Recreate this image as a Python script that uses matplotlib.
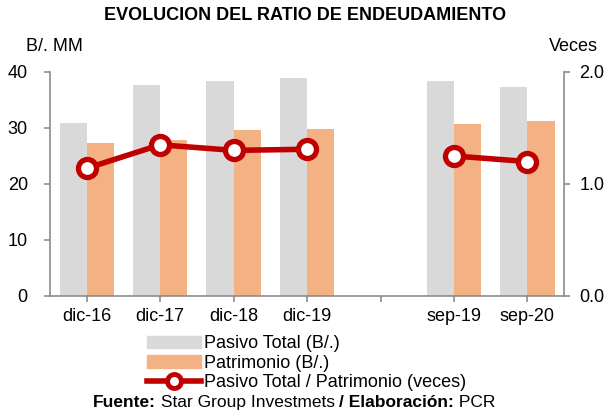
import numpy as np
import matplotlib.pyplot as plt
from matplotlib.lines import Line2D
from matplotlib.patches import Patch

plt.rcParams['font.family'] = ['Liberation Sans', 'DejaVu Sans']

categories = ["dic-16", "dic-17", "dic-18", "dic-19", "", "sep-19", "sep-20"]
pasivo = [30.8, 37.7, 38.3, 39.0, np.nan, 38.3, 37.3]
patrimonio = [27.3, 27.9, 29.6, 29.8, np.nan, 30.7, 31.3]
ratio = [1.14, 1.35, 1.30, 1.31, np.nan, 1.25, 1.20]

gray = "#D9D9D9"
orange = "#F4B183"
red = "#C00000"
axis_col = "#8C8C8C"

fig = plt.figure(figsize=(6.06, 4.16), dpi=100)
ax = fig.add_axes([0.0825, 0.2885, 0.8485, 0.5385])
x = np.arange(len(categories))
w = 0.37

ax.bar(x - w / 2, pasivo, w, color=gray, zorder=2)
ax.bar(x + w / 2, patrimonio, w, color=orange, zorder=2)
ax.set_xlim(-0.5, len(categories) - 0.5)
ax.set_ylim(0, 40)
ax.set_yticks([0, 10, 20, 30, 40])
ax.set_xticks(x)
ax.set_xticklabels(categories)

ax2 = ax.twinx()
ax2.plot(x, ratio, color=red, lw=4, marker="o", ms=13, mfc="white",
         mec=red, mew=3.8, zorder=5)
ax2.set_ylim(0, 2.0)
ax2.set_yticks([0, 1.0, 2.0])
ax2.set_yticklabels(["0.0", "1.0", "2.0"])

for a in (ax, ax2):
    a.spines['top'].set_visible(False)
    for s in ('left', 'right', 'bottom'):
        a.spines[s].set_color(axis_col)
        a.spines[s].set_linewidth(1.2)
    a.tick_params(colors=axis_col, labelcolor="black", labelsize=13,
                  length=4, width=1.2)
ax.spines['right'].set_visible(False)
ax2.spines['left'].set_visible(False)
ax2.spines['bottom'].set_visible(False)
ax.tick_params(axis='x', pad=5)
ax2.tick_params(axis='y', pad=7)
ax.tick_params(axis='y', pad=12)

fig.text(0.503, 0.963, "EVOLUCION DEL RATIO DE ENDEUDAMIENTO", ha="center",
         va="center", fontsize=13, fontweight="bold")
fig.text(0.043, 0.889, "B/. MM", ha="left", va="center", fontsize=13)
fig.text(0.987, 0.889, "Veces", ha="right", va="center", fontsize=13)

handles = [
    Patch(color=gray, label="Pasivo Total (B/.)"),
    Patch(color=orange, label="Patrimonio (B/.)"),
    Line2D([], [], color=red, lw=4, marker="o", ms=10, mfc="white",
           mec=red, mew=3.5, label="Pasivo Total / Patrimonio (veces)"),
]
fig.legend(handles=handles, loc="upper left", bbox_to_anchor=(0.243, 0.194),
           frameon=False, fontsize=13, handlelength=3.0, handleheight=0.65,
           handletextpad=0.15, labelspacing=0.14, borderpad=0, borderaxespad=0)

t1 = fig.text(0.153, 0.033, "Fuente:", ha="left", va="center",
              fontsize=12.5, fontweight="bold")
t2 = ax.annotate(" Star Group Investmets ", xy=(1, 0), xycoords=t1,
                 va="bottom", ha="left", fontsize=12.5)
t3 = ax.annotate("/ Elaboración:", xy=(1, 0), xycoords=t2,
                 va="bottom", ha="left", fontsize=12.5, fontweight="bold")
ax.annotate(" PCR", xy=(1, 0), xycoords=t3, va="bottom", ha="left",
            fontsize=12.5)

fig.savefig("out.png", dpi=100)
